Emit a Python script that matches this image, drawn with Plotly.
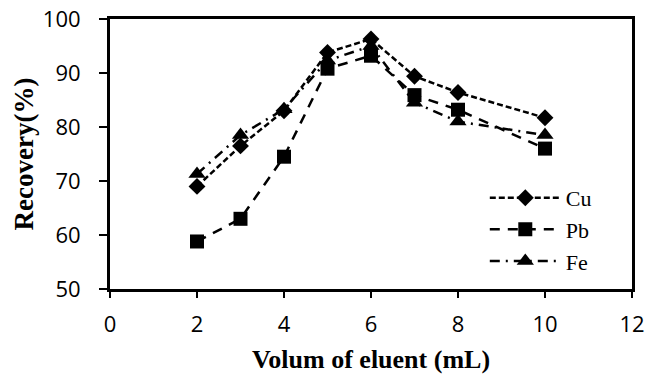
import plotly.graph_objects as go

volume = [2, 3, 4, 5, 6, 7, 8, 10]
cu = [69.0, 76.5, 83.0, 93.8, 96.3, 89.4, 86.4, 81.7]
pb = [58.8, 63.0, 74.5, 90.8, 93.2, 85.9, 83.2, 76.0]
fe = [71.3, 78.5, 83.3, 92.3, 95.0, 84.5, 81.0, 78.5]

x_ticks = [0, 2, 4, 6, 8, 10, 12]
y_ticks = [50, 60, 70, 80, 90, 100]

fig = go.Figure()
fig.add_trace(go.Scatter(x=volume, y=cu, name="Cu", mode="lines+markers",
                         line=dict(color="black", width=2.5, dash="6px,3px"),
                         marker=dict(symbol="diamond", size=13, color="black")))
fig.add_trace(go.Scatter(x=volume, y=pb, name="Pb", mode="lines+markers",
                         line=dict(color="black", width=2.5, dash="10px,8px"),
                         marker=dict(symbol="square", size=14, color="black")))
fig.add_trace(go.Scatter(x=volume, y=fe, name="Fe", mode="lines+markers",
                         line=dict(color="black", width=2.5, dash="10px,6px,2px,6px"),
                         marker=dict(symbol="triangle-up", size=15, color="black")))

fig.update_layout(
    width=647, height=374,
    margin=dict(l=110, r=15, t=19, b=85, autoexpand=False),
    paper_bgcolor="white", plot_bgcolor="white",
    showlegend=True,
    legend=dict(x=0.718, y=0.415, xanchor="left", yanchor="top",
                bgcolor="rgba(0,0,0,0)", borderwidth=0,
                font=dict(family="Liberation Serif", size=22, color="black"),
                itemwidth=71, tracegroupgap=0),
    xaxis=dict(range=[0, 12], tickvals=x_ticks, showgrid=False, zeroline=False,
               showline=True, linecolor="black", linewidth=3, mirror=True,
               ticks="outside", ticklen=6, tickwidth=2, tickcolor="black",
               ticklabelstandoff=8,
               tickfont=dict(family="Open Sans", size=22, color="black"),
               title=dict(text="<b>Volum of eluent (mL)</b>", standoff=15,
                          font=dict(family="Liberation Serif", size=26, color="black"))),
    yaxis=dict(range=[50, 100], tickvals=y_ticks, showgrid=False, zeroline=False,
               showline=True, linecolor="black", linewidth=3, mirror=True,
               ticks="outside", ticklen=8, tickwidth=2, tickcolor="black",
               ticklabelstandoff=14,
               tickfont=dict(family="Open Sans", size=22, color="black"),
               title=dict(text="<b>Recovery(%)</b>", standoff=2,
                          font=dict(family="Liberation Serif", size=27, color="black"))),
)

fig.write_html("out.html", config={"displayModeBar": False},
               post_script="document.body.style.margin='0';")
